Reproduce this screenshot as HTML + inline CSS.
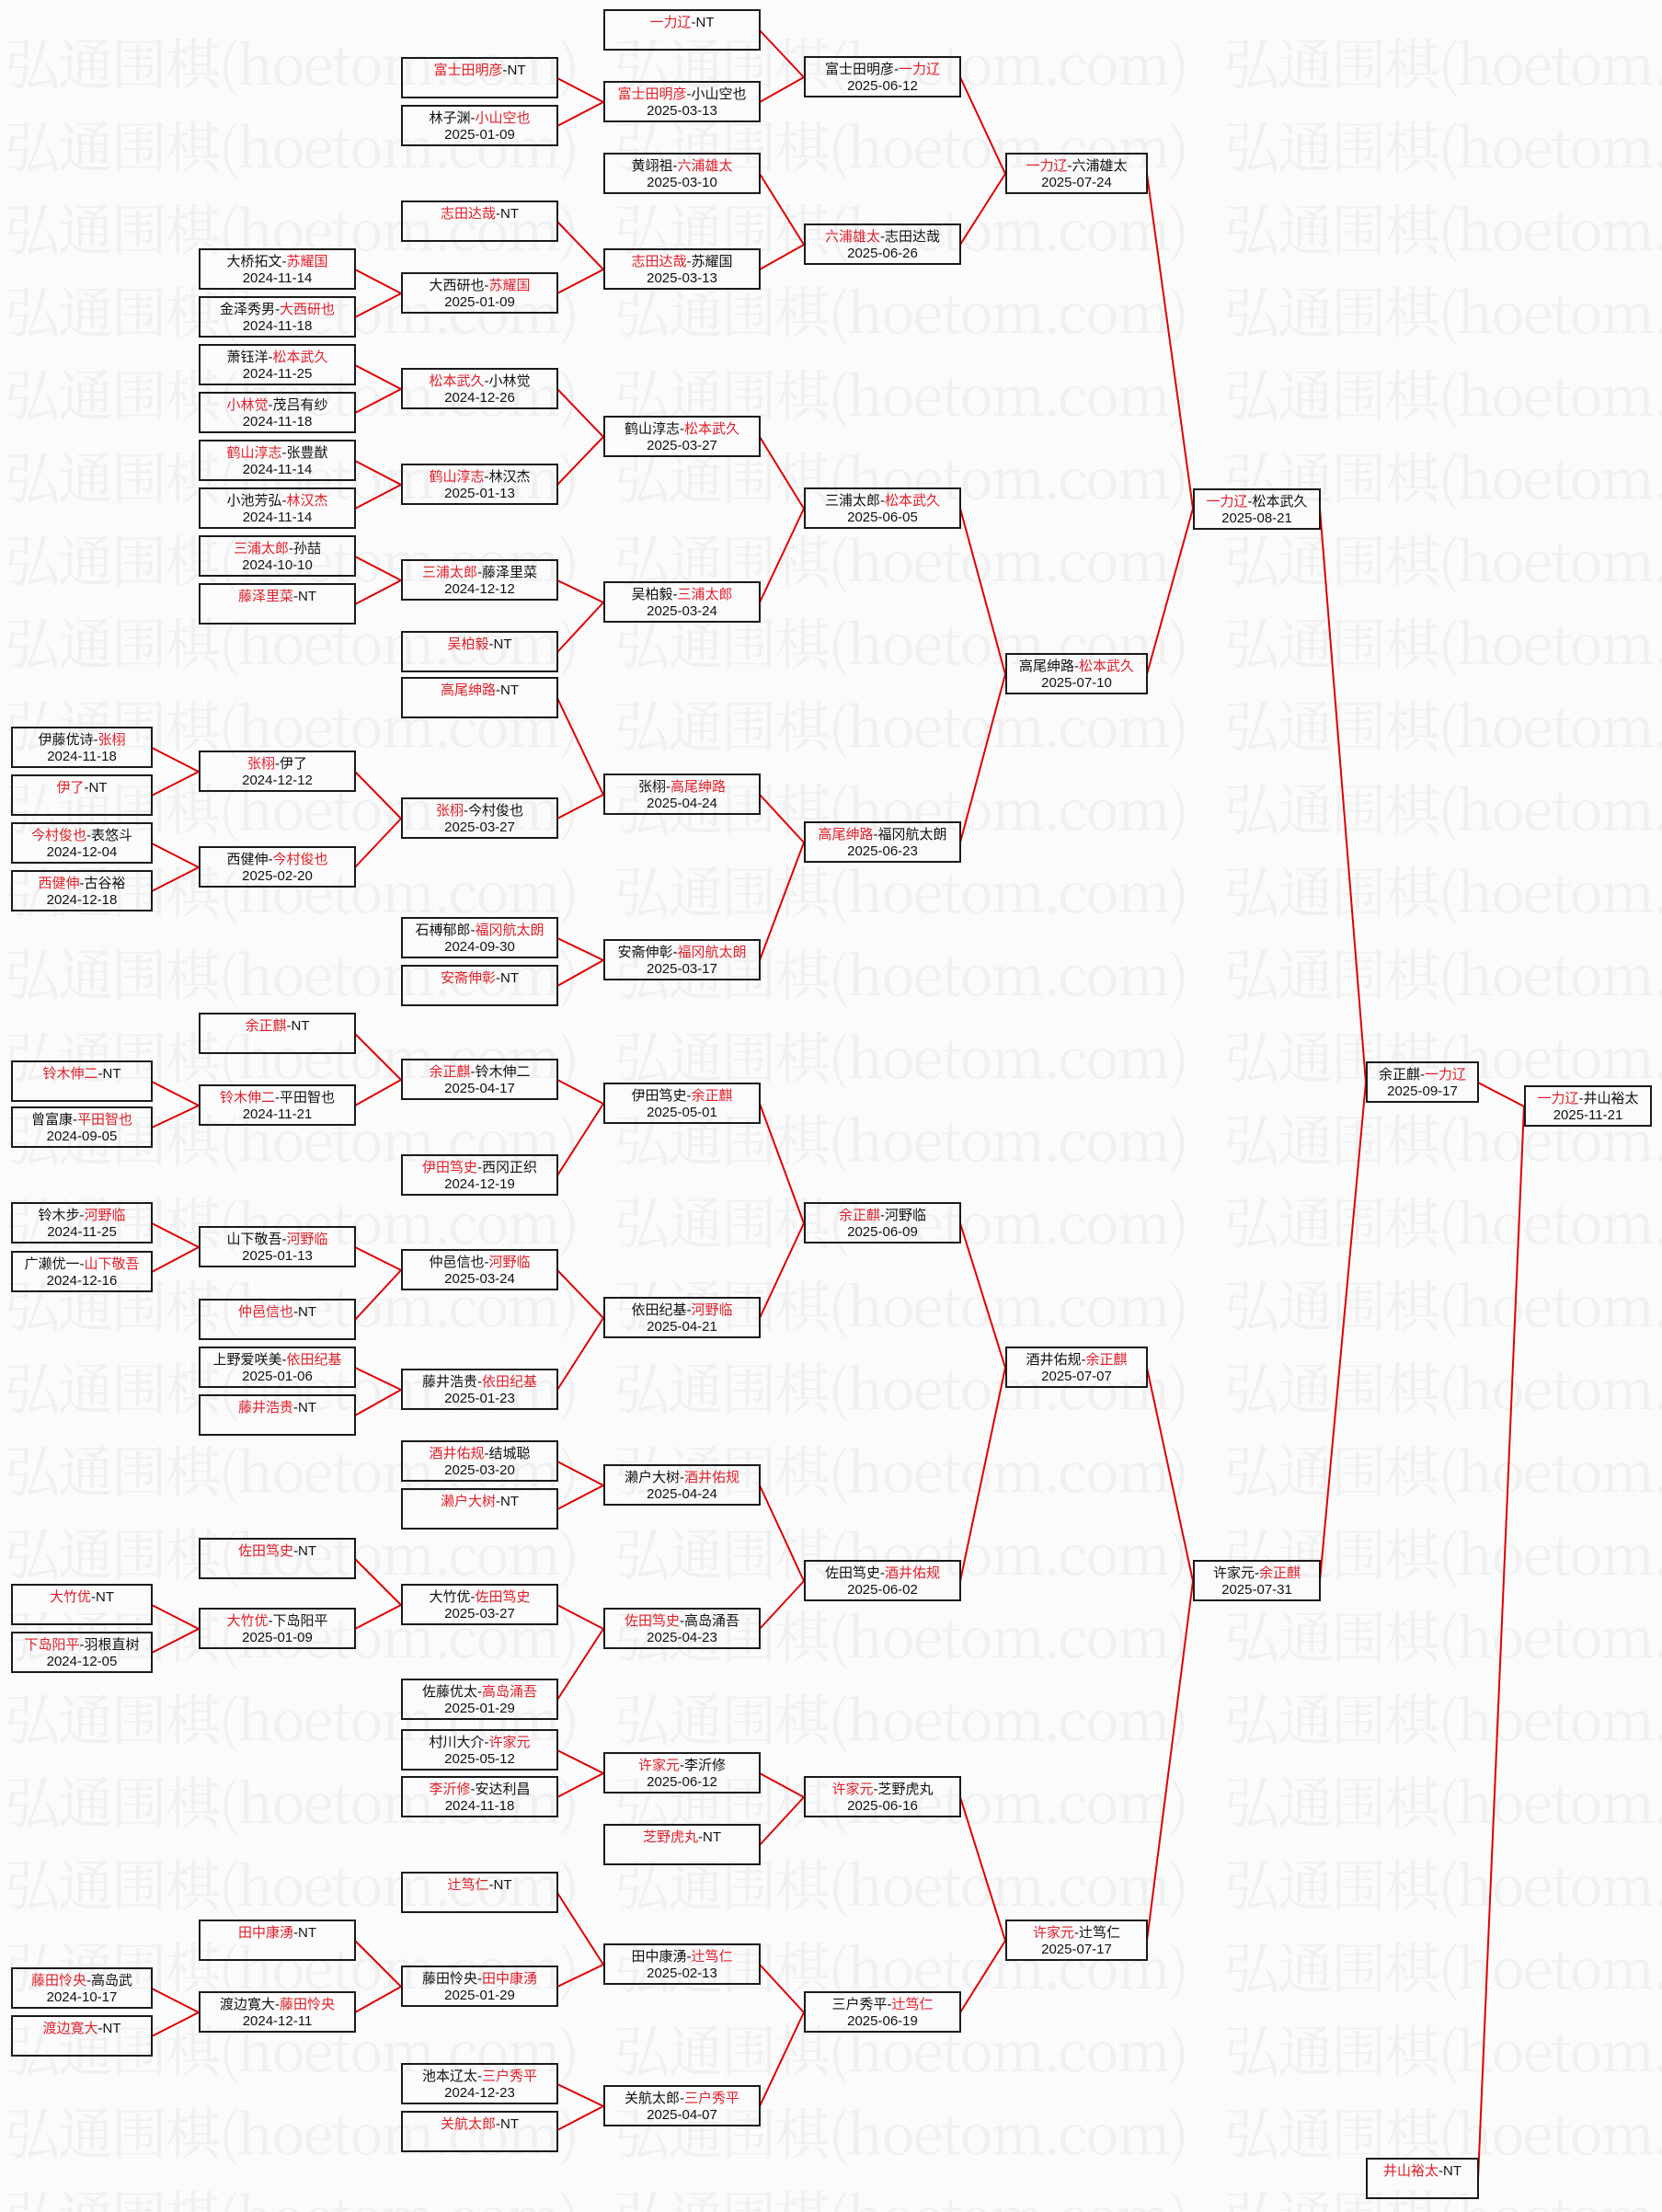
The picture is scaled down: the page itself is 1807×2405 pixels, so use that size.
<!DOCTYPE html>
<html><head><meta charset="utf-8"><style>
html,body{margin:0;padding:0}
body{width:1807px;height:2405px;position:relative;background:#fbfbfb;overflow:hidden;font-family:"Liberation Sans","WenQuanYi Zen Hei","Noto Sans CJK SC",sans-serif}
svg{position:absolute;left:0;top:0}
.b{position:absolute;height:45px;box-sizing:border-box;border:2px solid #1a1a1a;text-align:center;font-size:15px;line-height:18px;padding-top:4px;color:#111;white-space:nowrap}
.r{color:#e0202a}
.A{left:12px;width:154px}.B{left:216px;width:171px}.C{left:436px;width:171px}.D{left:656px;width:171px}.E{left:874px;width:171px}.F{left:1093px;width:155px}.G{left:1297px;width:139px}.H{left:1485px;width:123px}.I{left:1657px;width:139px}
</style></head><body>
<svg width="1807" height="2405" style="z-index:0">
<g font-family="Noto Serif CJK SC, serif" font-size="60" fill="#f0f0f0">
<text x="5" y="92" textLength="625">弘通围棋(hoetom.com)</text><text x="668" y="92" textLength="625">弘通围棋(hoetom.com)</text><text x="1331" y="92" textLength="625">弘通围棋(hoetom.com)</text>
<text x="5" y="182" textLength="625">弘通围棋(hoetom.com)</text><text x="668" y="182" textLength="625">弘通围棋(hoetom.com)</text><text x="1331" y="182" textLength="625">弘通围棋(hoetom.com)</text>
<text x="5" y="272" textLength="625">弘通围棋(hoetom.com)</text><text x="668" y="272" textLength="625">弘通围棋(hoetom.com)</text><text x="1331" y="272" textLength="625">弘通围棋(hoetom.com)</text>
<text x="5" y="362" textLength="625">弘通围棋(hoetom.com)</text><text x="668" y="362" textLength="625">弘通围棋(hoetom.com)</text><text x="1331" y="362" textLength="625">弘通围棋(hoetom.com)</text>
<text x="5" y="452" textLength="625">弘通围棋(hoetom.com)</text><text x="668" y="452" textLength="625">弘通围棋(hoetom.com)</text><text x="1331" y="452" textLength="625">弘通围棋(hoetom.com)</text>
<text x="5" y="542" textLength="625">弘通围棋(hoetom.com)</text><text x="668" y="542" textLength="625">弘通围棋(hoetom.com)</text><text x="1331" y="542" textLength="625">弘通围棋(hoetom.com)</text>
<text x="5" y="632" textLength="625">弘通围棋(hoetom.com)</text><text x="668" y="632" textLength="625">弘通围棋(hoetom.com)</text><text x="1331" y="632" textLength="625">弘通围棋(hoetom.com)</text>
<text x="5" y="722" textLength="625">弘通围棋(hoetom.com)</text><text x="668" y="722" textLength="625">弘通围棋(hoetom.com)</text><text x="1331" y="722" textLength="625">弘通围棋(hoetom.com)</text>
<text x="5" y="812" textLength="625">弘通围棋(hoetom.com)</text><text x="668" y="812" textLength="625">弘通围棋(hoetom.com)</text><text x="1331" y="812" textLength="625">弘通围棋(hoetom.com)</text>
<text x="5" y="902" textLength="625">弘通围棋(hoetom.com)</text><text x="668" y="902" textLength="625">弘通围棋(hoetom.com)</text><text x="1331" y="902" textLength="625">弘通围棋(hoetom.com)</text>
<text x="5" y="992" textLength="625">弘通围棋(hoetom.com)</text><text x="668" y="992" textLength="625">弘通围棋(hoetom.com)</text><text x="1331" y="992" textLength="625">弘通围棋(hoetom.com)</text>
<text x="5" y="1082" textLength="625">弘通围棋(hoetom.com)</text><text x="668" y="1082" textLength="625">弘通围棋(hoetom.com)</text><text x="1331" y="1082" textLength="625">弘通围棋(hoetom.com)</text>
<text x="5" y="1172" textLength="625">弘通围棋(hoetom.com)</text><text x="668" y="1172" textLength="625">弘通围棋(hoetom.com)</text><text x="1331" y="1172" textLength="625">弘通围棋(hoetom.com)</text>
<text x="5" y="1262" textLength="625">弘通围棋(hoetom.com)</text><text x="668" y="1262" textLength="625">弘通围棋(hoetom.com)</text><text x="1331" y="1262" textLength="625">弘通围棋(hoetom.com)</text>
<text x="5" y="1352" textLength="625">弘通围棋(hoetom.com)</text><text x="668" y="1352" textLength="625">弘通围棋(hoetom.com)</text><text x="1331" y="1352" textLength="625">弘通围棋(hoetom.com)</text>
<text x="5" y="1442" textLength="625">弘通围棋(hoetom.com)</text><text x="668" y="1442" textLength="625">弘通围棋(hoetom.com)</text><text x="1331" y="1442" textLength="625">弘通围棋(hoetom.com)</text>
<text x="5" y="1532" textLength="625">弘通围棋(hoetom.com)</text><text x="668" y="1532" textLength="625">弘通围棋(hoetom.com)</text><text x="1331" y="1532" textLength="625">弘通围棋(hoetom.com)</text>
<text x="5" y="1622" textLength="625">弘通围棋(hoetom.com)</text><text x="668" y="1622" textLength="625">弘通围棋(hoetom.com)</text><text x="1331" y="1622" textLength="625">弘通围棋(hoetom.com)</text>
<text x="5" y="1712" textLength="625">弘通围棋(hoetom.com)</text><text x="668" y="1712" textLength="625">弘通围棋(hoetom.com)</text><text x="1331" y="1712" textLength="625">弘通围棋(hoetom.com)</text>
<text x="5" y="1802" textLength="625">弘通围棋(hoetom.com)</text><text x="668" y="1802" textLength="625">弘通围棋(hoetom.com)</text><text x="1331" y="1802" textLength="625">弘通围棋(hoetom.com)</text>
<text x="5" y="1892" textLength="625">弘通围棋(hoetom.com)</text><text x="668" y="1892" textLength="625">弘通围棋(hoetom.com)</text><text x="1331" y="1892" textLength="625">弘通围棋(hoetom.com)</text>
<text x="5" y="1982" textLength="625">弘通围棋(hoetom.com)</text><text x="668" y="1982" textLength="625">弘通围棋(hoetom.com)</text><text x="1331" y="1982" textLength="625">弘通围棋(hoetom.com)</text>
<text x="5" y="2072" textLength="625">弘通围棋(hoetom.com)</text><text x="668" y="2072" textLength="625">弘通围棋(hoetom.com)</text><text x="1331" y="2072" textLength="625">弘通围棋(hoetom.com)</text>
<text x="5" y="2162" textLength="625">弘通围棋(hoetom.com)</text><text x="668" y="2162" textLength="625">弘通围棋(hoetom.com)</text><text x="1331" y="2162" textLength="625">弘通围棋(hoetom.com)</text>
<text x="5" y="2252" textLength="625">弘通围棋(hoetom.com)</text><text x="668" y="2252" textLength="625">弘通围棋(hoetom.com)</text><text x="1331" y="2252" textLength="625">弘通围棋(hoetom.com)</text>
<text x="5" y="2342" textLength="625">弘通围棋(hoetom.com)</text><text x="668" y="2342" textLength="625">弘通围棋(hoetom.com)</text><text x="1331" y="2342" textLength="625">弘通围棋(hoetom.com)</text>
<text x="5" y="2432" textLength="625">弘通围棋(hoetom.com)</text><text x="668" y="2432" textLength="625">弘通围棋(hoetom.com)</text><text x="1331" y="2432" textLength="625">弘通围棋(hoetom.com)</text>
</g>
<g stroke="#e00000" stroke-width="2" fill="none">
<path d="M165 813L216 839M165 865L216 839M165 917L216 943M165 969L216 943M165 1176L216 1202M165 1226L216 1202M165 1330L216 1356M165 1383L216 1356M165 1745L216 1771M165 1797L216 1771M165 2162L216 2188M165 2214L216 2188"/>
<path d="M386 293L436 319M386 345L436 319M386 397L436 423M386 449L436 423M386 501L436 527M386 553L436 527M386 605L436 631M386 657L436 631M386 839L436 890M386 943L436 890M386 1124L436 1174M386 1202L436 1174M386 1356L436 1381M386 1435L436 1381M386 1487L436 1511M386 1539L436 1511M386 1695L436 1745M386 1771L436 1745M386 2110L436 2160M386 2188L436 2160"/>
<path d="M606 85L656 111M606 137L656 111M606 241L656 293M606 319L656 293M606 423L656 475M606 527L656 475M606 631L656 655M606 709L656 655M606 759L656 864M606 890L656 864M606 1020L656 1044M606 1072L656 1044M606 1174L656 1200M606 1278L656 1200M606 1381L656 1433M606 1511L656 1433M606 1589L656 1615M606 1641L656 1615M606 1745L656 1771M606 1848L656 1771M606 1903L656 1928M606 1954L656 1928M606 2058L656 2136M606 2160L656 2136M606 2266L656 2290M606 2316L656 2290"/>
<path d="M826 33L874 84M826 111L874 84M826 189L874 266M826 293L874 266M826 475L874 553M826 655L874 553M826 864L874 916M826 1044L874 916M826 1200L874 1330M826 1433L874 1330M826 1615L874 1719M826 1771L874 1719M826 1928L874 1954M826 2006L874 1954M826 2136L874 2188M826 2290L874 2188"/>
<path d="M1044 84L1093 189M1044 266L1093 189M1044 553L1093 733M1044 916L1093 733M1044 1330L1093 1487M1044 1719L1093 1487M1044 1954L1093 2110M1044 2188L1093 2110"/>
<path d="M1247 189L1297 553M1247 733L1297 553M1247 1487L1297 1719M1247 2110L1297 1719"/>
<path d="M1435 553L1485 1177M1435 1719L1485 1177M1607 1177L1657 1203M1607 2369L1657 1203"/>
</g>
</svg>
<div class="b D" style="top:10px"><span class="r">一力辽</span>-NT</div>
<div class="b D" style="top:88px"><span class="r">富士田明彦</span>-小山空也<br>2025-03-13</div>
<div class="b D" style="top:166px">黄翊祖-<span class="r">六浦雄太</span><br>2025-03-10</div>
<div class="b D" style="top:270px"><span class="r">志田达哉</span>-苏耀国<br>2025-03-13</div>
<div class="b D" style="top:452px">鹤山淳志-<span class="r">松本武久</span><br>2025-03-27</div>
<div class="b D" style="top:632px">吴柏毅-<span class="r">三浦太郎</span><br>2025-03-24</div>
<div class="b D" style="top:841px">张栩-<span class="r">高尾绅路</span><br>2025-04-24</div>
<div class="b D" style="top:1021px">安斋伸彰-<span class="r">福冈航太朗</span><br>2025-03-17</div>
<div class="b D" style="top:1177px">伊田笃史-<span class="r">余正麒</span><br>2025-05-01</div>
<div class="b D" style="top:1410px">依田纪基-<span class="r">河野临</span><br>2025-04-21</div>
<div class="b D" style="top:1592px">濑户大树-<span class="r">酒井佑规</span><br>2025-04-24</div>
<div class="b D" style="top:1748px"><span class="r">佐田笃史</span>-高岛涌吾<br>2025-04-23</div>
<div class="b D" style="top:1905px"><span class="r">许家元</span>-李沂修<br>2025-06-12</div>
<div class="b D" style="top:1983px"><span class="r">芝野虎丸</span>-NT</div>
<div class="b D" style="top:2113px">田中康湧-<span class="r">辻笃仁</span><br>2025-02-13</div>
<div class="b D" style="top:2267px">关航太郎-<span class="r">三户秀平</span><br>2025-04-07</div>
<div class="b C" style="top:62px"><span class="r">富士田明彦</span>-NT</div>
<div class="b C" style="top:114px">林子渊-<span class="r">小山空也</span><br>2025-01-09</div>
<div class="b C" style="top:218px"><span class="r">志田达哉</span>-NT</div>
<div class="b C" style="top:296px">大西研也-<span class="r">苏耀国</span><br>2025-01-09</div>
<div class="b C" style="top:400px"><span class="r">松本武久</span>-小林觉<br>2024-12-26</div>
<div class="b C" style="top:504px"><span class="r">鹤山淳志</span>-林汉杰<br>2025-01-13</div>
<div class="b C" style="top:608px"><span class="r">三浦太郎</span>-藤泽里菜<br>2024-12-12</div>
<div class="b C" style="top:686px"><span class="r">吴柏毅</span>-NT</div>
<div class="b C" style="top:736px"><span class="r">高尾绅路</span>-NT</div>
<div class="b C" style="top:867px"><span class="r">张栩</span>-今村俊也<br>2025-03-27</div>
<div class="b C" style="top:997px">石榑郁郎-<span class="r">福冈航太朗</span><br>2024-09-30</div>
<div class="b C" style="top:1049px"><span class="r">安斋伸彰</span>-NT</div>
<div class="b C" style="top:1151px"><span class="r">余正麒</span>-铃木伸二<br>2025-04-17</div>
<div class="b C" style="top:1255px"><span class="r">伊田笃史</span>-西冈正织<br>2024-12-19</div>
<div class="b C" style="top:1358px">仲邑信也-<span class="r">河野临</span><br>2025-03-24</div>
<div class="b C" style="top:1488px">藤井浩贵-<span class="r">依田纪基</span><br>2025-01-23</div>
<div class="b C" style="top:1566px"><span class="r">酒井佑规</span>-结城聪<br>2025-03-20</div>
<div class="b C" style="top:1618px"><span class="r">濑户大树</span>-NT</div>
<div class="b C" style="top:1722px">大竹优-<span class="r">佐田笃史</span><br>2025-03-27</div>
<div class="b C" style="top:1825px">佐藤优太-<span class="r">高岛涌吾</span><br>2025-01-29</div>
<div class="b C" style="top:1880px">村川大介-<span class="r">许家元</span><br>2025-05-12</div>
<div class="b C" style="top:1931px"><span class="r">李沂修</span>-安达利昌<br>2024-11-18</div>
<div class="b C" style="top:2035px"><span class="r">辻笃仁</span>-NT</div>
<div class="b C" style="top:2137px">藤田怜央-<span class="r">田中康湧</span><br>2025-01-29</div>
<div class="b C" style="top:2243px">池本辽太-<span class="r">三户秀平</span><br>2024-12-23</div>
<div class="b C" style="top:2295px"><span class="r">关航太郎</span>-NT</div>
<div class="b B" style="top:270px">大桥拓文-<span class="r">苏耀国</span><br>2024-11-14</div>
<div class="b B" style="top:322px">金泽秀男-<span class="r">大西研也</span><br>2024-11-18</div>
<div class="b B" style="top:374px">萧钰洋-<span class="r">松本武久</span><br>2024-11-25</div>
<div class="b B" style="top:426px"><span class="r">小林觉</span>-茂吕有纱<br>2024-11-18</div>
<div class="b B" style="top:478px"><span class="r">鹤山淳志</span>-张豊猷<br>2024-11-14</div>
<div class="b B" style="top:530px">小池芳弘-<span class="r">林汉杰</span><br>2024-11-14</div>
<div class="b B" style="top:582px"><span class="r">三浦太郎</span>-孙喆<br>2024-10-10</div>
<div class="b B" style="top:634px"><span class="r">藤泽里菜</span>-NT</div>
<div class="b B" style="top:816px"><span class="r">张栩</span>-伊了<br>2024-12-12</div>
<div class="b B" style="top:920px">西健伸-<span class="r">今村俊也</span><br>2025-02-20</div>
<div class="b B" style="top:1101px"><span class="r">余正麒</span>-NT</div>
<div class="b B" style="top:1179px"><span class="r">铃木伸二</span>-平田智也<br>2024-11-21</div>
<div class="b B" style="top:1333px">山下敬吾-<span class="r">河野临</span><br>2025-01-13</div>
<div class="b B" style="top:1412px"><span class="r">仲邑信也</span>-NT</div>
<div class="b B" style="top:1464px">上野爱咲美-<span class="r">依田纪基</span><br>2025-01-06</div>
<div class="b B" style="top:1516px"><span class="r">藤井浩贵</span>-NT</div>
<div class="b B" style="top:1672px"><span class="r">佐田笃史</span>-NT</div>
<div class="b B" style="top:1748px"><span class="r">大竹优</span>-下岛阳平<br>2025-01-09</div>
<div class="b B" style="top:2087px"><span class="r">田中康湧</span>-NT</div>
<div class="b B" style="top:2165px">渡边寛大-<span class="r">藤田怜央</span><br>2024-12-11</div>
<div class="b A" style="top:790px">伊藤优诗-<span class="r">张栩</span><br>2024-11-18</div>
<div class="b A" style="top:842px"><span class="r">伊了</span>-NT</div>
<div class="b A" style="top:894px"><span class="r">今村俊也</span>-表悠斗<br>2024-12-04</div>
<div class="b A" style="top:946px"><span class="r">西健伸</span>-古谷裕<br>2024-12-18</div>
<div class="b A" style="top:1153px"><span class="r">铃木伸二</span>-NT</div>
<div class="b A" style="top:1203px">曾富康-<span class="r">平田智也</span><br>2024-09-05</div>
<div class="b A" style="top:1307px">铃木步-<span class="r">河野临</span><br>2024-11-25</div>
<div class="b A" style="top:1360px">广濑优一-<span class="r">山下敬吾</span><br>2024-12-16</div>
<div class="b A" style="top:1722px"><span class="r">大竹优</span>-NT</div>
<div class="b A" style="top:1774px"><span class="r">下岛阳平</span>-羽根直树<br>2024-12-05</div>
<div class="b A" style="top:2139px"><span class="r">藤田怜央</span>-高岛武<br>2024-10-17</div>
<div class="b A" style="top:2191px"><span class="r">渡边寛大</span>-NT</div>
<div class="b E" style="top:61px">富士田明彦-<span class="r">一力辽</span><br>2025-06-12</div>
<div class="b E" style="top:243px"><span class="r">六浦雄太</span>-志田达哉<br>2025-06-26</div>
<div class="b E" style="top:530px">三浦太郎-<span class="r">松本武久</span><br>2025-06-05</div>
<div class="b E" style="top:893px"><span class="r">高尾绅路</span>-福冈航太朗<br>2025-06-23</div>
<div class="b E" style="top:1307px"><span class="r">余正麒</span>-河野临<br>2025-06-09</div>
<div class="b E" style="top:1696px">佐田笃史-<span class="r">酒井佑规</span><br>2025-06-02</div>
<div class="b E" style="top:1931px"><span class="r">许家元</span>-芝野虎丸<br>2025-06-16</div>
<div class="b E" style="top:2165px">三户秀平-<span class="r">辻笃仁</span><br>2025-06-19</div>
<div class="b F" style="top:166px"><span class="r">一力辽</span>-六浦雄太<br>2025-07-24</div>
<div class="b F" style="top:710px">高尾绅路-<span class="r">松本武久</span><br>2025-07-10</div>
<div class="b F" style="top:1464px">酒井佑规-<span class="r">余正麒</span><br>2025-07-07</div>
<div class="b F" style="top:2087px"><span class="r">许家元</span>-辻笃仁<br>2025-07-17</div>
<div class="b G" style="top:531px"><span class="r">一力辽</span>-松本武久<br>2025-08-21</div>
<div class="b G" style="top:1696px">许家元-<span class="r">余正麒</span><br>2025-07-31</div>
<div class="b H" style="top:1154px">余正麒-<span class="r">一力辽</span><br>2025-09-17</div>
<div class="b H" style="top:2346px"><span class="r">井山裕太</span>-NT</div>
<div class="b I" style="top:1180px"><span class="r">一力辽</span>-井山裕太<br>2025-11-21</div>
</body></html>
